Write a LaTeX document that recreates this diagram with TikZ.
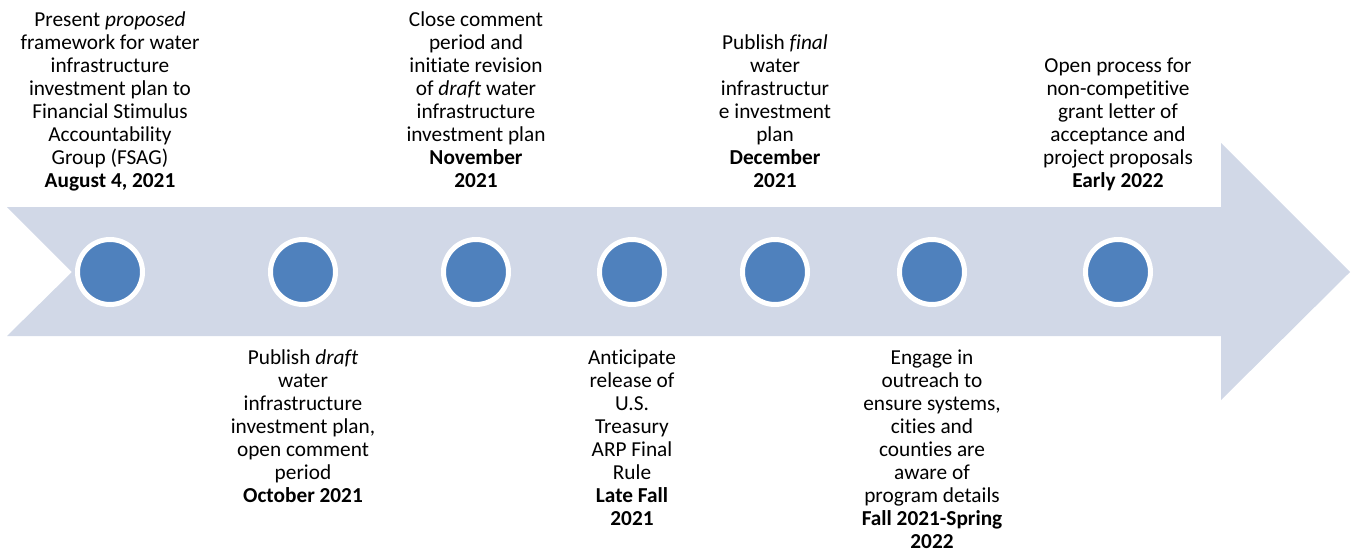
\documentclass[tikz,border=0pt]{standalone}
\usepackage{fontspec}
\setmainfont{Carlito}[Ligatures={NoCommon,NoRequired,NoContextual}]
\definecolor{bandfill}{RGB}{209,216,231}
\definecolor{dotfill}{RGB}{79,129,189}
\begin{document}
\begin{tikzpicture}[
        x = 1pt,
        y = -1pt,
        dot/.style = {circle, fill = dotfill, draw = white, line width = 5pt, minimum size = 65pt, inner sep = 0pt},
        above text/.style = {anchor = south, align = center, inner sep = 0pt, text depth = 4pt,
            font = \fontsize{21.3}{23}\selectfont},
        below text/.style = {anchor = north, align = center, inner sep = 0pt,
            font = \fontsize{21.3}{23}\selectfont}
    ]
        \useasboundingbox (0, 0) rectangle (1351, 559);
        % the big arrow
        \fill[bandfill] (7, 207) -- (1221, 207) -- (1221, 143) -- (1350, 272)
            -- (1221, 400) -- (1221, 336) -- (7, 336) -- (72, 272) -- cycle;
        % dots on the arrow
        \node[dot] (d1) at (110, 272) {};
        \node[dot] (d2) at (303, 272) {};
        \node[dot] (d3) at (476, 272) {};
        \node[dot] (d4) at (632, 272) {};
        \node[dot] (d5) at (775, 272) {};
        \node[dot] (d6) at (932, 272) {};
        \node[dot] (d7) at (1118, 272) {};
        % texts above
        \node[above text] (t1) at (110, 192) {Present \textit{proposed}\\framework for water\\infrastructure\\investment plan to\\Financial Stimulus\\Accountability\\Group (FSAG)\\\textbf{August 4, 2021}};
        \node[above text] (t3) at (476, 192) {Close comment\\period and\\initiate revision\\of \textit{draft} water\\infrastructure\\investment plan\\\textbf{November}\\\textbf{2021}};
        \node[above text] (t5) at (775, 192) {Publish \textit{final}\\water\\infrastructur\\e investment\\plan\\\textbf{December}\\\textbf{2021}};
        \node[above text] (t7) at (1118, 192) {Open process for\\non-competitive\\grant letter of\\acceptance and\\project proposals\\\textbf{Early 2022}};
        % texts below
        \node[below text] (t2) at (303, 350) {Publish \textit{draft}\\water\\infrastructure\\investment plan,\\open comment\\period\\\textbf{October 2021}};
        \node[below text] (t4) at (632, 350) {Anticipate\\release of\\U.S.\\Treasury\\ARP Final\\Rule\\\textbf{Late Fall}\\\textbf{2021}};
        \node[below text] (t6) at (932, 350) {Engage in\\outreach to\\ensure systems,\\cities and\\counties are\\aware of\\program details\\\textbf{Fall 2021-Spring}\\\textbf{2022}};
    \end{tikzpicture}
\end{document}
